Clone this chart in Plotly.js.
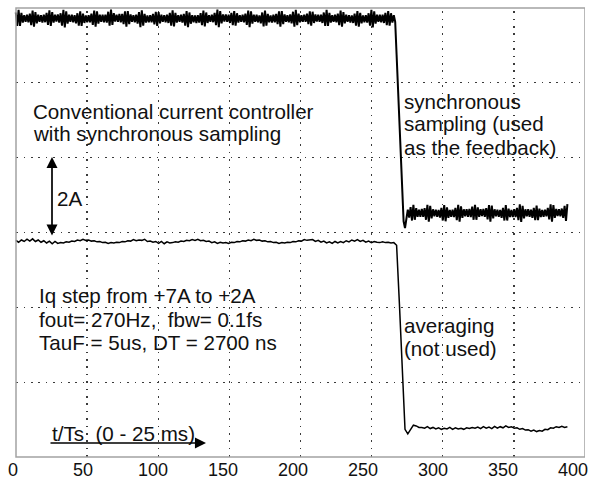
<!DOCTYPE html>
<html>
<head>
<meta charset="utf-8">
<script src="https://cdn.plot.ly/plotly-3.0.1.min.js"></script>
<style>
  html, body { margin: 0; padding: 0; background: #ffffff; }
  #chart { width: 596px; height: 481px; }
</style>
</head>
<body>
<div id="chart"></div>
<script>
// ---- data (x in t/Ts, y in A on an oscilloscope-like screen) ----
const xTickVals = [0, 50, 100, 150, 200, 250, 300, 350, 400];
const xTickText = ["0", "50", "100", "150", "200", "250", "300", "350", "400"];

// synchronous sampling (used as the feedback): one sample per t/Ts, first sample at t/Ts = 2
const syncBefore = [
              11.88,11.52,11.95,11.52,11.87,11.61,11.81,11.63,11.82,
  11.62,11.85,11.54,11.93,11.50,11.89,11.59,11.82,11.63,11.81,11.61,
  11.82,11.62,11.87,11.55,11.94,11.52,11.89,11.61,11.82,11.64,11.83,
  11.61,11.86,11.53,11.95,11.48,11.91,11.58,11.82,11.63,11.82,11.62,
  11.81,11.59,11.86,11.53,11.91,11.52,11.85,11.60,11.80,11.62,11.81,
  11.62,11.85,11.55,11.93,11.50,11.91,11.58,11.82,11.63,11.82,11.62,
  11.82,11.61,11.90,11.53,11.96,11.55,11.86,11.64,11.82,11.63,11.84,
  11.62,11.84,11.57,11.91,11.50,11.92,11.57,11.83,11.63,11.81,11.62,
  11.82,11.58,11.89,11.49,11.94,11.53,11.84,11.61,11.80,11.62,11.81,
  11.62,11.84,11.56,11.90,11.52,11.89,11.59,11.82,11.63,11.81,11.62,
  11.82,11.60,11.87,11.53,11.94,11.51,11.87,11.61,11.81,11.63,11.82,
  11.61,11.84,11.53,11.92,11.49,11.88,11.58,11.81,11.62,11.80,11.60,
  11.81,11.61,11.86,11.54,11.93,11.51,11.88,11.60,11.81,11.63,11.82,
  11.62,11.87,11.54,11.96,11.49,11.92,11.59,11.83,11.64,11.83,11.63,
  11.82,11.60,11.87,11.54,11.92,11.53,11.86,11.61,11.81,11.63,11.82,
  11.62,11.85,11.55,11.93,11.49,11.91,11.58,11.82,11.63,11.82,11.62,
  11.80,11.59,11.88,11.51,11.93,11.53,11.84,11.62,11.80,11.61,11.82,
  11.62,11.84,11.57,11.91,11.50,11.92,11.57,11.83,11.63,11.81,11.62,
  11.83,11.59,11.90,11.50,11.95,11.54,11.85,11.62,11.81,11.63,11.82,
  11.63,11.85,11.57,11.91,11.53,11.90,11.60,11.83,11.64,11.82,11.63,
  11.82,11.60,11.88,11.52,11.95,11.52,11.87,11.61,11.81,11.63,11.82,
  11.62,11.85,11.54,11.93,11.50,11.89,11.59,11.82,11.63,11.81,11.61,
  11.80,11.60,11.85,11.53,11.92,11.50,11.87,11.59,11.80,11.62,11.81,
  11.61,11.86,11.53,11.95,11.48,11.91,11.58,11.82,11.63,11.82,11.62,
  11.82,11.60,11.87,11.54,11.92,11.53,11.86,11.61,11.81,11.63
];
const syncStep = [10.75, 9.80, 8.85, 7.90, 7.00, 6.30, 6.12, 6.45];
const syncAfter = [
  6.61,6.40,6.68,6.32,6.74,6.34,6.65,6.42,6.61,6.42,6.63,
  6.42,6.65,6.34,6.74,6.29,6.71,6.38,6.62,6.43,6.61,6.42,
  6.60,6.40,6.66,6.32,6.73,6.30,6.67,6.39,6.60,6.42,6.61,
  6.41,6.66,6.33,6.74,6.29,6.70,6.39,6.62,6.43,6.62,6.42,
  6.63,6.41,6.69,6.34,6.74,6.34,6.67,6.42,6.62,6.44,6.63,
  6.42,6.65,6.35,6.73,6.29,6.72,6.38,6.62,6.43,6.61,6.42,
  6.60,6.39,6.66,6.32,6.73,6.32,6.64,6.41,6.60,6.41,6.62,
  6.41,6.66,6.33,6.75,6.28,6.71,6.38,6.62,6.43,6.62,6.42,
  6.61,6.39,6.66,6.33,6.72,6.33,6.64,6.41,6.60,6.42,6.61,
  6.43,6.66,6.35,6.75,6.29,6.73,6.39,6.63,6.44,6.62,6.43,
  6.64,6.39,6.71,6.31,6.76
];

// averaging (not used): one sample every 2 t/Ts, first sample at t/Ts = 2
const avgBefore = [
       5.79,5.74,5.80,5.76,5.82,5.77,5.83,5.76,5.80,
  5.74,5.78,5.72,5.77,5.70,5.76,5.71,5.73,5.72,5.75,
  5.74,5.77,5.76,5.80,5.78,5.82,5.79,5.80,5.77,5.78,
  5.75,5.76,5.73,5.74,5.71,5.73,5.72,5.74,5.73,5.76,
  5.75,5.78,5.77,5.81,5.78,5.80,5.79,5.82,5.76,5.77,
  5.74,5.76,5.71,5.76,5.70,5.75,5.72,5.73,5.75,5.74,
  5.77,5.76,5.79,5.78,5.81,5.79,5.82,5.78,5.79,5.76,
  5.77,5.73,5.75,5.71,5.74,5.72,5.73,5.71,5.74,5.73,
  5.76,5.75,5.78,5.77,5.80,5.78,5.82,5.79,5.80,5.77,
  5.78,5.75,5.76,5.73,5.74,5.71,5.73,5.72,5.74,5.73,
  5.76,5.75,5.78,5.77,5.81,5.79,5.80,5.81,5.76,5.79,
  5.74,5.77,5.72,5.75,5.71,5.76,5.72,5.76,5.73,5.78,
  5.75,5.80,5.77,5.81,5.76,5.79,5.74,5.77,5.73,5.76,
  5.74,5.73,5.75,5.73,5.74,5.72,5.73
];
const avgStep = [5.66, 4.10, 2.40, 0.74, 0.62, 0.72, 0.85, 0.83, 0.79];
const avgAfter = [
  0.79,0.77,0.81,0.76,0.79,0.75,0.78,0.74,0.77,0.75,
  0.79,0.74,0.78,0.75,0.77,0.74,0.78,0.76,0.79,0.77,
  0.80,0.76,0.81,0.77,0.80,0.76,0.82,0.77,0.81,0.78,
  0.83,0.79,0.81,0.77,0.78,0.74,0.76,0.72,0.73,0.69,
  0.72,0.68,0.71,0.69,0.74,0.73,0.78,0.77,0.81,0.79,
  0.82,0.79,0.81
];

const syncY = syncBefore.concat(syncStep, syncAfter);
const avgY = avgBefore.concat(avgStep, avgAfter);

// ---- geometry / styling ----
const FONT = '"Liberation Sans", Arial, Helvetica, sans-serif';
const TXT = '#111111';
const GRID = '#3a3a3a';
const GRIDDASH = '0px,3.2px,1.6px,2.6px';
const FRAME = '#a3a3a3';
const PX_PER_UNIT = 1.4;            // t/Ts scale of the labelled axis
const FRAME_LEFT = 3 / PX_PER_UNIT; // screen frame starts 3 px right of t/Ts = 0
const FRAME_RIGHT = 572 / PX_PER_UNIT;
const divisions = [1, 2, 3, 4, 5, 6, 7].map(k => FRAME_LEFT + k * (FRAME_RIGHT - FRAME_LEFT) / 8);

const data = [
  { type: 'scatter', mode: 'lines', x0: 2, dx: 1, y: syncY,
    line: { color: '#000000', width: 2.0 }, hoverinfo: 'skip', showlegend: false },
  { type: 'scatter', mode: 'lines', x0: 2, dx: 2, y: avgY,
    line: { color: '#000000', width: 1.5 }, hoverinfo: 'skip', showlegend: false }
];

function txt(text, px, py) {
  return { text: text, xref: 'paper', yref: 'paper', x: (px - 13) / 572, y: (457 - py) / 449,
    xanchor: 'left', yanchor: 'middle', showarrow: false, borderpad: 0,
    font: { family: FONT, size: 20.6, color: TXT } };
}

const annotations = [
  txt('Conventional current controller', 32, 111),
  txt('with synchronous sampling', 32, 133.5),
  txt('2A', 56, 198),
  txt('synchronous', 403, 101),
  txt('sampling (used', 403, 124),
  txt('as the feedback)', 403, 147),
  txt('Iq step from +7A to +2A', 38, 296),
  txt('fout= 270Hz,\u00a0 fbw= 0.1fs', 38, 319),
  txt('TauF = 5us, DT = 2700 ns', 38, 342),
  txt('averaging', 403, 325),
  txt('(not used)', 403, 348),
  txt('t/Ts\u00a0 (0 - 25 ms)', 51, 433),
  { text: '', xref: 'paper', yref: 'paper', x: (52 - 13) / 572, y: (457 - 157) / 449,
    ax: 0, ay: 79, showarrow: true, arrowside: 'end+start',
    arrowhead: 2, startarrowhead: 2, arrowsize: 1.3, startarrowsize: 1.3, arrowwidth: 1.7,
    arrowcolor: '#000', borderpad: 0, font: { size: 1 } },
  { text: '', xref: 'paper', yref: 'paper', x: (206 - 13) / 572, y: (457 - 443) / 449,
    ax: -156, ay: 0, showarrow: true, arrowside: 'end',
    arrowhead: 2, arrowsize: 1.3, arrowwidth: 1.7, arrowcolor: '#000', borderpad: 0, font: { size: 1 } }
];

const layout = {
  width: 596, height: 481,
  margin: { l: 13, r: 11, t: 8, b: 24, pad: 0 },
  paper_bgcolor: '#ffffff', plot_bgcolor: '#ffffff',
  showlegend: false,
  xaxis: { range: [0, FRAME_RIGHT], tickmode: 'array', tickvals: xTickVals, ticktext: xTickText,
    showgrid: false, zeroline: false, showline: false, ticks: '',
    tickfont: { family: FONT, size: 18, color: TXT }, fixedrange: true,
    minor: { tickmode: 'array', tickvals: divisions, showgrid: true, gridcolor: GRID,
      gridwidth: 1.3, griddash: GRIDDASH, ticks: '' } },
  yaxis: { range: [0, 12], dtick: 2, tick0: 0,
    showgrid: true, gridcolor: GRID, gridwidth: 1.3, griddash: GRIDDASH,
    zeroline: false, showticklabels: false, ticks: '', showline: false, fixedrange: true },
  shapes: [
    { type: 'rect', xref: 'x', yref: 'paper', x0: FRAME_LEFT, x1: FRAME_RIGHT, y0: 0, y1: 1,
      line: { color: FRAME, width: 1.5 }, fillcolor: 'rgba(0,0,0,0)', layer: 'above' }
  ],
  annotations: annotations
};

Plotly.newPlot('chart', data, layout, { displayModeBar: false, staticPlot: true })
  .catch(function (e) { document.body.insertAdjacentText('beforeend', 'ERR ' + e); });
window.addEventListener('error', function (e) { document.body.insertAdjacentText('beforeend', 'ERR ' + e.message); });
</script>
</body>
</html>
